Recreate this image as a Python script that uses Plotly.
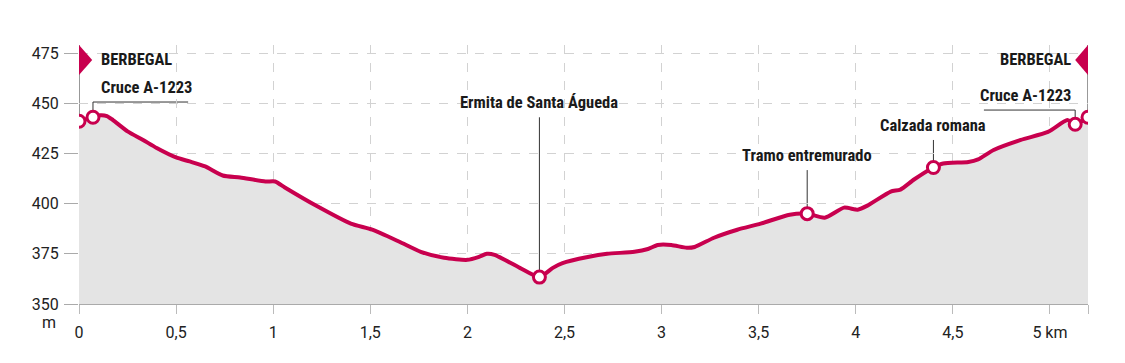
import plotly.graph_objects as go

# ---- data ----
km = [0, 0.072, 0.108, 0.144, 0.175, 0.25, 0.33, 0.40, 0.50, 0.57, 0.65, 0.74, 0.83,
      0.96, 1.01, 1.06, 1.22, 1.40, 1.51, 1.65, 1.76, 1.88, 2.0, 2.06, 2.10, 2.14,
      2.27, 2.371, 2.44, 2.49, 2.62, 2.72, 2.86, 2.93, 2.98, 3.05, 3.13, 3.17, 3.27,
      3.39, 3.51, 3.66, 3.75, 3.84, 3.94, 4.01, 4.06, 4.18, 4.23, 4.30, 4.40, 4.45,
      4.58, 4.63, 4.71, 4.85, 4.99, 5.09, 5.13, 5.196]
elev = [441, 443, 444, 443.6, 441.6, 436, 431.7, 427.7, 423, 421, 418.5, 414, 413,
        411, 411, 408, 399, 390, 387, 381, 376, 373, 372, 373.5, 375, 374.5,
        368, 363.4, 368, 370.4, 373.4, 375, 376, 377.4, 379.4, 379.4, 378, 378.4, 383,
        387, 390, 394.5, 395, 393, 398, 397, 399, 406, 407, 412, 418, 420,
        420.7, 422, 426.7, 431.7, 435.7, 441.6, 439.5, 443]

marker_km = [0, 0.072, 2.371, 3.75, 4.40, 5.13, 5.196]
marker_elev = [441, 443, 363.4, 395, 418, 439.5, 443]

x_tickvals = [0, 0.5, 1, 1.5, 2, 2.5, 3, 3.5, 4, 4.5, 5, 5.196]
x_ticktext = ["0", "0,5", "1", "1,5", "2", "2,5", "3", "3,5", "4", "4,5", "5 km", ""]
y_tickvals = [350, 375, 400, 425, 450, 475]
y_ticktext = ["350", "375", "400", "425", "450", "475"]

labels = ["BERBEGAL", "Cruce A-1223", "Ermita de Santa Águeda", "Tramo entremurado",
          "Calzada romana", "Cruce A-1223", "BERBEGAL"]

RED = "#c8004e"
FILL = "#e4e4e4"
LBL_FONT = dict(family="Liberation Sans Narrow, Roboto Condensed, DejaVu Sans Condensed, sans-serif",
                size=16.5, color="#1a1a1a", weight=700)
TICK_FONT = dict(family="Roboto, Liberation Sans, Arial, sans-serif", size=16, color="#222")

YMIN, YMAX = 350, 479
XMAX = km[-1]

fig = go.Figure()
fig.add_trace(go.Scatter(x=km, y=elev, mode="lines", fill="tozeroy", fillcolor=FILL,
                         line=dict(color=RED, width=4, shape="spline", smoothing=0.6),
                         hoverinfo="skip", showlegend=False))
fig.add_trace(go.Scatter(x=marker_km, y=marker_elev, mode="markers",
                         marker=dict(size=12, color="white", line=dict(color=RED, width=3)),
                         hoverinfo="skip", showlegend=False))

LINE = dict(color="#333", width=1)
shapes = []
# left flag
shapes.append(dict(type="line", x0=marker_km[0], x1=marker_km[0], y0=YMAX, y1=marker_elev[0], line=LINE, layer="below"))
shapes.append(dict(type="path", path=f"M {marker_km[0]},{YMAX} L {marker_km[0]},{YMAX-15} L {marker_km[0]+0.068},{YMAX-7.5} Z",
                   fillcolor=RED, line=dict(width=0)))
# right flag
shapes.append(dict(type="line", x0=marker_km[6], x1=marker_km[6], y0=YMAX, y1=marker_elev[6], line=LINE, layer="below"))
shapes.append(dict(type="path", path=f"M {marker_km[6]},{YMAX} L {marker_km[6]},{YMAX-15} L {marker_km[6]-0.066},{YMAX-7.5} Z",
                   fillcolor=RED, line=dict(width=0)))
# left Cruce leader
shapes.append(dict(type="line", x0=marker_km[1], x1=marker_km[1], y0=450.6, y1=marker_elev[1], line=LINE, layer="below"))
shapes.append(dict(type="line", x0=marker_km[1], x1=0.562, y0=450.6, y1=450.6, line=LINE, layer="below"))
# Ermita
shapes.append(dict(type="line", x0=marker_km[2], x1=marker_km[2], y0=443, y1=marker_elev[2], line=LINE, layer="below"))
# Tramo
shapes.append(dict(type="line", x0=marker_km[3], x1=marker_km[3], y0=416.7, y1=marker_elev[3], line=LINE, layer="below"))
# Calzada
shapes.append(dict(type="line", x0=marker_km[4], x1=marker_km[4], y0=431.7, y1=marker_elev[4], line=LINE, layer="below"))
# right Cruce leader
shapes.append(dict(type="line", x0=marker_km[5], x1=marker_km[5], y0=446.6, y1=marker_elev[5], line=LINE, layer="below"))
shapes.append(dict(type="line", x0=4.66, x1=marker_km[5], y0=446.6, y1=446.6, line=LINE, layer="below"))

annotations = [
    dict(x=0.103, y=472, text=labels[0], xanchor="left", yanchor="middle"),
    dict(x=0.103, y=458, text=labels[1], xanchor="left", yanchor="middle"),
    dict(x=marker_km[2], y=450.6, text=labels[2], xanchor="center", yanchor="middle"),
    dict(x=marker_km[3], y=424.2, text=labels[3], xanchor="center", yanchor="middle"),
    dict(x=marker_km[4], y=439, text=labels[4], xanchor="center", yanchor="middle"),
    dict(x=5.118, y=454, text=labels[5], xanchor="right", yanchor="middle"),
    dict(x=5.118, y=472, text=labels[6], xanchor="right", yanchor="middle"),
]
for a in annotations:
    a.update(showarrow=False, font=LBL_FONT)
annotations.append(dict(xref="paper", x=0, y=350, yref="y", text="m", showarrow=False,
                        xanchor="right", yanchor="middle", xshift=-21, yshift=-18, font=TICK_FONT))

fig.update_layout(
    width=1125, height=363,
    margin=dict(l=79, r=37, t=45, b=59),
    plot_bgcolor="white", paper_bgcolor="white",
    shapes=shapes, annotations=annotations,
    xaxis=dict(range=[0, XMAX], tickvals=x_tickvals, ticktext=x_ticktext,
               showgrid=True, gridcolor="#d2d2d2", griddash="dash", gridwidth=1,
               zeroline=False, showline=True, linecolor="#aaa", linewidth=1,
               ticks="outside", ticklen=9, tickcolor="#bbb", tickfont=TICK_FONT,
               ticklabelstandoff=5),
    yaxis=dict(range=[YMIN, YMAX], tickvals=y_tickvals, ticktext=y_ticktext,
               showgrid=True, gridcolor="#d2d2d2", griddash="dash", gridwidth=1,
               zeroline=False, showline=False,
               ticks="outside", ticklen=14, tickcolor="#aaa", tickfont=TICK_FONT,
               ticklabelstandoff=2),
)

fig.write_html("out.html", config={"displayModeBar": False},
               post_script="document.body.style.margin='0';")
